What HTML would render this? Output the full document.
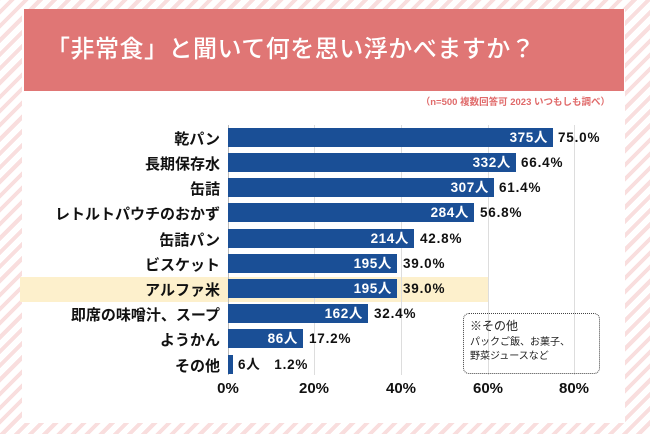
<!DOCTYPE html>
<html><head><meta charset="utf-8"><style>
*{margin:0;padding:0;box-sizing:border-box}
body{width:650px;height:434px;position:relative;overflow:hidden;font-family:"Liberation Sans","Noto Sans CJK JP",sans-serif;
background:repeating-linear-gradient(-45deg,#fff 0 6px,#f9dede 6px 10px);}
.panel{position:absolute;left:22px;top:9px;width:603px;height:414px;background:#fff}
.banner{position:absolute;left:24px;top:9px;width:600px;height:82px;background:#e07675;color:#fff;font-size:24px;font-weight:500;padding-left:22px;line-height:82px;letter-spacing:0.5px}
.sub{position:absolute;right:40px;top:94px;font-size:9.5px;color:#e06a6a;font-weight:bold}
.grid{position:absolute;top:125px;height:250px;width:1px;background:#ddd}
.hl{position:absolute;left:20px;top:277px;width:468px;height:25px;background:#fdf0cc}
.lab{position:absolute;right:430px;font-size:15px;font-weight:bold;color:#111;white-space:nowrap}
.bar{position:absolute;left:228px;height:19px;background:#1a4f96;color:#fff;font-weight:bold;font-size:13.5px;letter-spacing:0.6px;text-align:right;padding-right:5px;line-height:19px;white-space:nowrap}
.pct{position:absolute;font-size:13.5px;letter-spacing:0.8px;font-weight:bold;color:#111;line-height:19px}
.ax{position:absolute;top:380px;font-size:15px;font-weight:bold;color:#111;transform:translateX(-50%)}
.leg{position:absolute;left:463px;top:313px;width:137px;height:61px;border:1.5px dotted #444;border-radius:6px;padding:3px 6px;font-size:12px;color:#222}
.leg .s{font-size:10px;line-height:14px;margin-top:2px}
</style></head><body>
<div class="panel"></div>
<div class="banner">「非常食」と聞いて何を思い浮かべますか？</div>
<div class="sub">（n=500 複数回答可 2023 いつもしも調べ）</div>
<div class="hl"></div>
<div class="grid" style="left:228px;background:#bbb"></div>
<div class="grid" style="left:314px"></div>
<div class="grid" style="left:401px"></div>
<div class="grid" style="left:488px"></div>
<div class="grid" style="left:574px"></div>

<div class="lab" style="top:128px">乾パン</div>
<div class="bar" style="top:128px;width:325px">375人</div><div class="pct" style="top:128px;left:558px">75.0%</div>
<div class="lab" style="top:153px">長期保存水</div>
<div class="bar" style="top:153px;width:288px">332人</div><div class="pct" style="top:153px;left:521px">66.4%</div>
<div class="lab" style="top:178px">缶詰</div>
<div class="bar" style="top:178px;width:266px">307人</div><div class="pct" style="top:178px;left:499px">61.4%</div>
<div class="lab" style="top:203px">レトルトパウチのおかず</div>
<div class="bar" style="top:203px;width:246px">284人</div><div class="pct" style="top:203px;left:480px">56.8%</div>
<div class="lab" style="top:229px">缶詰パン</div>
<div class="bar" style="top:229px;width:186px">214人</div><div class="pct" style="top:229px;left:420px">42.8%</div>
<div class="lab" style="top:254px">ビスケット</div>
<div class="bar" style="top:254px;width:169px">195人</div><div class="pct" style="top:254px;left:403px">39.0%</div>
<div class="lab" style="top:279px">アルファ米</div>
<div class="bar" style="top:279px;width:169px">195人</div><div class="pct" style="top:279px;left:403px">39.0%</div>
<div class="lab" style="top:304px">即席の味噌汁、スープ</div>
<div class="bar" style="top:304px;width:140px">162人</div><div class="pct" style="top:304px;left:374px">32.4%</div>
<div class="lab" style="top:329px">ようかん</div>
<div class="bar" style="top:329px;width:75px">86人</div><div class="pct" style="top:329px;left:309px">17.2%</div>
<div class="lab" style="top:355px">その他</div>
<div class="bar" style="top:355px;width:5px;padding:0"></div><div class="pct" style="top:355px;left:238px">6人&nbsp;&nbsp;&nbsp;1.2%</div>

<div class="ax" style="left:228px">0%</div>
<div class="ax" style="left:314px">20%</div>
<div class="ax" style="left:401px">40%</div>
<div class="ax" style="left:488px">60%</div>
<div class="ax" style="left:574px">80%</div>

<div class="leg">※その他<div class="s">パックご飯、お菓子、<br>野菜ジュースなど</div></div>
</body></html>
